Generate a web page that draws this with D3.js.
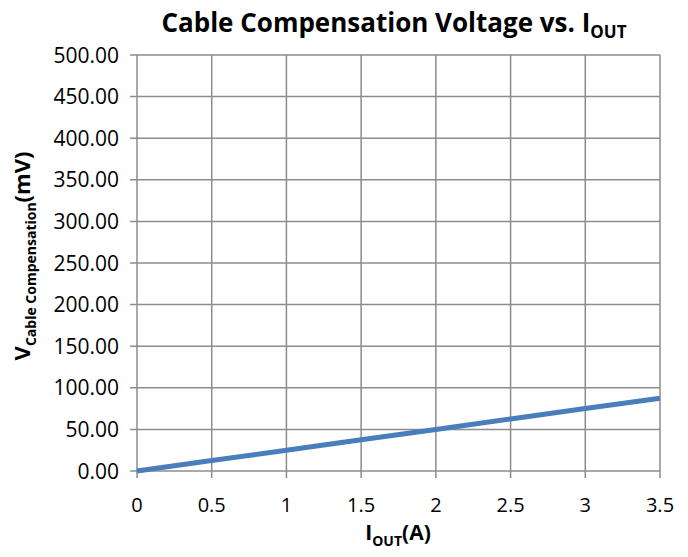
<!DOCTYPE html>
<html>
<head>
<meta charset="utf-8">
<script src="https://cdn.jsdelivr.net/npm/d3@7"></script>
<style>
  body { margin: 0; background: #fff; }
  text { font-family: "Open Sans", "Liberation Sans", sans-serif; fill: #000; }
</style>
</head>
<body>
<div id="container"></div>
<script>
let iout = [0, 0.5, 1, 1.5, 2, 2.5, 3, 3.5];
let vcomp = [0, 12.5, 25, 37.5, 50, 62.5, 75, 87.5];
let xTicks = [0, 0.5, 1, 1.5, 2, 2.5, 3, 3.5];
let yTicks = [0, 50, 100, 150, 200, 250, 300, 350, 400, 450, 500];

let w = 688,
    h = 557;

let viz = d3.select('#container')
    .append('svg')
      .attr('width', w)
      .attr('height', h)
      .style('background', '#fff');

let pLeft = 137, pRight = 660, pTop = 55, pBottom = 471;

let x = d3.scaleLinear().domain([0, 3.5]).range([pLeft, pRight]);
let y = d3.scaleLinear().domain([0, 500]).range([pBottom, pTop]);

// grid
viz.append('g')
    .selectAll('line')
    .data(xTicks)
    .join('line')
      .attr('x1', d => x(d)).attr('x2', d => x(d))
      .attr('y1', pTop).attr('y2', pBottom + 7)
      .attr('stroke', '#8c8c8c').attr('stroke-width', 1.5);

viz.append('g')
    .selectAll('line')
    .data(yTicks)
    .join('line')
      .attr('x1', pLeft - 7).attr('x2', pRight)
      .attr('y1', d => y(d)).attr('y2', d => y(d))
      .attr('stroke', '#8c8c8c').attr('stroke-width', 1.5);

// tick labels
viz.append('g')
    .selectAll('text')
    .data(yTicks)
    .join('text')
      .attr('x', pLeft - 18)
      .attr('y', d => y(d))
      .attr('dy', '0.36em')
      .attr('text-anchor', 'end')
      .attr('font-size', 21)
      .text(d => d.toFixed(2));

viz.append('g')
    .selectAll('text')
    .data(xTicks)
    .join('text')
      .attr('x', d => x(d))
      .attr('y', 512)
      .attr('text-anchor', 'middle')
      .attr('font-size', 20)
      .text(d => d);

// line
let line = d3.line()
    .x((d, i) => x(iout[i]))
    .y(d => y(d));

viz.append('path')
    .datum(vcomp)
    .attr('d', line)
    .attr('fill', 'none')
    .attr('stroke', '#4a7ebb')
    .attr('stroke-width', 5);

// title
let title = viz.append('text')
    .attr('x', 394)
    .attr('y', 32)
    .attr('text-anchor', 'middle')
    .attr('font-size', 26)
    .attr('font-weight', 'bold');
title.append('tspan').text('Cable Compensation Voltage vs. I');
title.append('tspan').attr('font-size', 17).attr('dy', 6).text('OUT');

// x axis title
let xt = viz.append('text')
    .attr('x', 398)
    .attr('y', 540)
    .attr('text-anchor', 'middle')
    .attr('font-size', 21)
    .attr('font-weight', 'bold');
xt.append('tspan').text('I');
xt.append('tspan').attr('font-size', 14).attr('dy', 6).text('OUT');
xt.append('tspan').attr('dy', -6).text('(A)');

// y axis title
let yt = viz.append('text')
    .attr('transform', 'translate(' + 30 + ',' + 256 + ') rotate(-90)')
    .attr('text-anchor', 'middle')
    .attr('font-size', 22)
    .attr('font-weight', 'bold');
yt.append('tspan').text('V');
yt.append('tspan').attr('font-size', 14).attr('dy', 6).text('Cable Compensation');
yt.append('tspan').attr('dy', -6).text('(mV)');
</script>
</body>
</html>
